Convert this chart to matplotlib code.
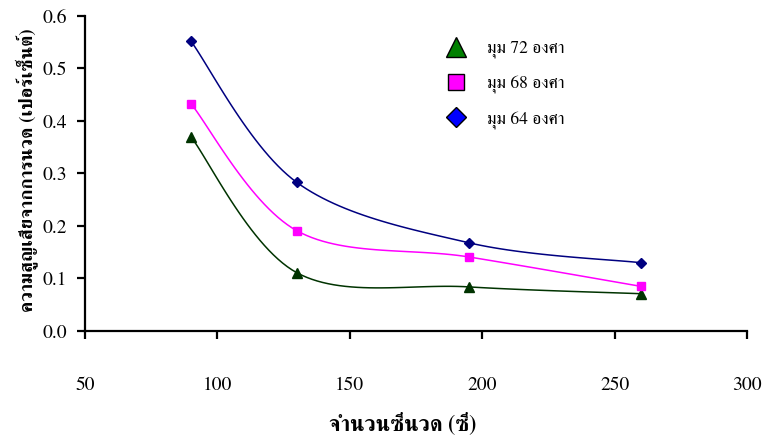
import numpy as np
import matplotlib
matplotlib.use("Agg")
import matplotlib.pyplot as plt
from matplotlib.lines import Line2D

# จำนวนซี่นวด (ซี่) กับ ความสูญเสียจากการนวด (เปอร์เซ็นต์)
pieces = [90, 130, 195, 260]
loss_72 = [0.370, 0.111, 0.084, 0.071]
loss_68 = [0.433, 0.191, 0.141, 0.085]
loss_64 = [0.552, 0.283, 0.168, 0.130]
labels = ["มุม 72 องศา", "มุม 68 องศา", "มุม 64 องศา"]

plt.rcParams["font.family"] = ["FreeSerif", "Loma", "DejaVu Serif"]

xmin, xmax, ymin, ymax = 50, 300, 0.0, 0.6


def smooth(xs, ys, w=662.0, h=315.0, n=30):
    # smoothed line like excel: cubic bezier, catmull-rom control points
    px = (np.asarray(xs, float) - xmin) / (xmax - xmin) * w
    py = (np.asarray(ys, float) - ymin) / (ymax - ymin) * h
    P = np.column_stack([px, py])
    P = np.vstack([P[0], P, P[-1]])
    out = []
    for i in range(1, len(P) - 2):
        p0, p1, p2, p3 = P[i - 1], P[i], P[i + 1], P[i + 2]
        c1 = p1 + (p2 - p0) / 6.0
        c2 = p2 - (p3 - p1) / 6.0
        t = np.linspace(0, 1, n)[:, None]
        seg = ((1 - t) ** 3) * p1 + 3 * ((1 - t) ** 2) * t * c1 + 3 * (1 - t) * t ** 2 * c2 + t ** 3 * p2
        out.append(seg if i == 1 else seg[1:])
    seg = np.vstack(out)
    return seg[:, 0] / w * (xmax - xmin) + xmin, seg[:, 1] / h * (ymax - ymin) + ymin


fig = plt.figure(figsize=(7.64, 4.36), dpi=100)
ax = fig.add_axes([85 / 764, 1 - 331 / 436, 662 / 764, 315 / 436])

series = [
    (loss_72, "#003300", "^", 7),
    (loss_68, "#FF00FF", "s", 6),
    (loss_64, "#000080", "D", 5.5),
]
for ys, c, mk, ms in series:
    sx, sy = smooth(pieces, ys)
    ax.plot(sx, sy, color=c, lw=1.1)
    ax.plot(pieces, ys, ls="none", marker=mk, ms=ms, mfc=c, mec=c)

ax.set_xlim(xmin, xmax)
ax.set_ylim(ymin, ymax)
ax.set_xticks([50, 100, 150, 200, 250, 300])
ax.set_yticks(np.arange(0, 0.61, 0.1))
ax.set_yticklabels(["%.1f" % v for v in np.arange(0, 0.61, 0.1)])

for s in ["top", "right"]:
    ax.spines[s].set_visible(False)
for s in ["left", "bottom"]:
    ax.spines[s].set_linewidth(1.6)
ax.tick_params(axis="both", direction="out", length=6, width=1.6, labelsize=14)
ax.tick_params(axis="x", pad=27)
ax.tick_params(axis="y", pad=7)

# legend
handles = [
    Line2D([], [], ls="none", marker="^", ms=14, mfc="#008000", mec="black", mew=1),
    Line2D([], [], ls="none", marker="s", ms=12, mfc="#FF00FF", mec="black", mew=1),
    Line2D([], [], ls="none", marker="D", ms=10, mfc="#0000FF", mec="black", mew=1),
]
ax.legend(handles, labels, loc="upper left", bbox_to_anchor=(0.511, 0.972),
          frameon=False, handletextpad=0.75, labelspacing=1.0, fontsize=12.5)

fig.text(403 / 764, 1 - 424 / 436, "จำนวนซี่นวด (ซี่)",
         ha="center", va="center", fontsize=15.5, fontweight="bold")
fig.text(27 / 764, 1 - 170 / 436, "ความสูญเสียจากการนวด (เปอร์เซ็นต์)",
         ha="center", va="center", rotation=90, fontsize=13.5, fontweight="bold")

fig.savefig("out.png", dpi=100)
